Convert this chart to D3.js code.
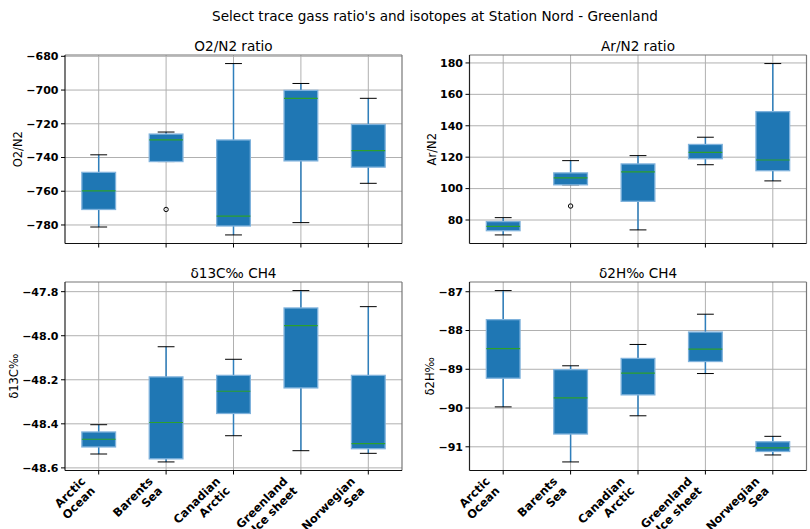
<!DOCTYPE html>
<html>
<head>
<meta charset="utf-8">
<script src="https://cdn.jsdelivr.net/npm/d3@7"></script>
<style>
  body { margin: 0; background: #fff; }
  text { font-family: "DejaVu Sans", sans-serif; fill: #000; }
  .tick-label { font-weight: bold; font-size: 11px; }
  .cat-label { font-weight: bold; font-size: 11.5px; }
</style>
</head>
<body>
<svg id="chart" width="810" height="529"></svg>
<script>
// categories and their two-line tick labels
var categories = ['Arctic Ocean', 'Barents Sea', 'Canadian Arctic', 'Greenland Ice sheet', 'Norwegian Sea'];
var categoryLines = [['Arctic', 'Ocean'], ['Barents', 'Sea'], ['Canadian', 'Arctic'], ['Greenland', 'Ice sheet'], ['Norwegian', 'Sea']];

// box stats per category: [lower whisker, Q1, median, Q3, upper whisker]
var o2n2Stats = [
  [-781.2, -770.8, -759.8, -748.8, -738.4],
  [-742.4, -742.4, -729.6, -726.1, -724.9],
  [-785.9, -780.6, -774.7, -729.6, -684.3],
  [-778.6, -742.0, -704.9, -700.2, -696.1],
  [-755.3, -745.7, -735.9, -720.4, -704.9]
];
var o2n2Outliers = [[], [-770.8], [], [], []];
var o2n2Ticks = [-780, -760, -740, -720, -700, -680];

var arn2Stats = [
  [70.5, 73.2, 76.0, 79.0, 81.5],
  [102.4, 102.4, 106.8, 110.0, 117.8],
  [73.7, 91.9, 110.6, 115.7, 121.0],
  [115.2, 119.0, 123.0, 128.1, 132.7],
  [104.9, 111.4, 118.2, 149.0, 179.6]
];
var arn2Outliers = [[], [88.9], [], [], []];
var arn2Ticks = [80, 100, 120, 140, 160, 180];

var d13cStats = [
  [-48.537, -48.505, -48.470, -48.437, -48.404],
  [-48.573, -48.559, -48.394, -48.187, -48.050],
  [-48.454, -48.353, -48.252, -48.180, -48.107],
  [-48.522, -48.237, -47.954, -47.874, -47.795],
  [-48.534, -48.513, -48.490, -48.180, -47.868]
];
var d13cOutliers = [[], [], [], [], []];
var d13cTicks = [-48.6, -48.4, -48.2, -48.0, -47.8];

var d2hStats = [
  [-89.97, -89.23, -88.47, -87.72, -86.97],
  [-91.39, -90.67, -89.74, -89.01, -88.91],
  [-90.20, -89.66, -89.10, -88.72, -88.36],
  [-89.11, -88.80, -88.48, -88.04, -87.58],
  [-91.21, -91.12, -91.03, -90.87, -90.73]
];
var d2hOutliers = [[], [], [], [], []];
var d2hTicks = [-91, -90, -89, -88, -87];

var suptitle = "Select trace gass ratio's and isotopes at Station Nord - Greenland";

var
  svg = d3.select('#chart'),
  pw = 337,
  ph = 188.5,
  panels = [
    {title: 'O2/N2 ratio', ylabel: 'O2/N2', stats: o2n2Stats, outliers: o2n2Outliers, ticks: o2n2Ticks, fmt: d3.format('d'), left: 65, top: 55, xlabels: false},
    {title: 'Ar/N2 ratio', ylabel: 'Ar/N2', stats: arn2Stats, outliers: arn2Outliers, ticks: arn2Ticks, fmt: d3.format('d'), left: 469.5, top: 55, xlabels: false},
    {title: 'δ13C‰ CH4', ylabel: 'δ13C‰', stats: d13cStats, outliers: d13cOutliers, ticks: d13cTicks, fmt: d3.format('.1f'), left: 65, top: 282, xlabels: true},
    {title: 'δ2H‰ CH4', ylabel: 'δ2H‰', stats: d2hStats, outliers: d2hOutliers, ticks: d2hTicks, fmt: d3.format('d'), left: 469.5, top: 282, xlabels: true}
  ];

svg.append('text')
  .attr('x', 435)
  .attr('y', 21)
  .attr('text-anchor', 'middle')
  .style('font-size', '13.6px')
  .text(suptitle);

panels.forEach(function(p) {
  var
    g = svg.append('g').attr('transform', 'translate(' + p.left + ',' + p.top + ')'),
    all = d3.merge(p.stats.concat(p.outliers)),
    lo = d3.min(all),
    hi = d3.max(all),
    pad = (hi - lo) * 0.05,
    x = d3.scalePoint().domain(categories).range([0, pw]).padding(0.5),
    y = d3.scaleLinear().domain([lo - pad, hi + pad]).range([ph, 0]),
    bw = x.step() * 0.5,
    cw = x.step() * 0.25
    ;

  // grid
  g.selectAll('.gx').data(categories).enter().append('line')
    .attr('x1', d => x(d)).attr('x2', d => x(d))
    .attr('y1', 0).attr('y2', ph)
    .attr('stroke', '#b0b0b0').attr('stroke-width', 1);
  g.selectAll('.gy').data(p.ticks).enter().append('line')
    .attr('x1', 0).attr('x2', pw)
    .attr('y1', d => y(d)).attr('y2', d => y(d))
    .attr('stroke', '#b0b0b0').attr('stroke-width', 1);

  var boxes = g.selectAll('.box')
    .data(p.stats)
    .enter().append('g')
    .attr('class', 'box')
    .attr('transform', (d, i) => 'translate(' + x(categories[i]) + ',0)');

  // whiskers
  boxes.append('line')
    .attr('y1', d => y(d[3])).attr('y2', d => y(d[4]))
    .attr('stroke', '#2f7fbc').attr('stroke-width', 1.5);
  boxes.append('line')
    .attr('y1', d => y(d[1])).attr('y2', d => y(d[0]))
    .attr('stroke', '#2f7fbc').attr('stroke-width', 1.5);
  // caps
  boxes.selectAll('.cap')
    .data(d => [d[0], d[4]])
    .enter().append('line')
    .attr('x1', -cw / 2).attr('x2', cw / 2)
    .attr('y1', v => y(v)).attr('y2', v => y(v))
    .attr('stroke', '#000').attr('stroke-width', 1);
  // box
  boxes.append('rect')
    .attr('x', -bw / 2).attr('width', bw)
    .attr('y', d => y(d[3]))
    .attr('height', d => Math.max(0, y(d[1]) - y(d[3])))
    .attr('fill', '#1f77b4')
    .attr('stroke', '#7fb2dc').attr('stroke-width', 1.3);
  // median
  boxes.append('line')
    .attr('x1', -bw / 2).attr('x2', bw / 2)
    .attr('y1', d => y(d[2])).attr('y2', d => y(d[2]))
    .attr('stroke', '#2ca02c').attr('stroke-width', 1.2);
  // outliers
  g.selectAll('.flier')
    .data(d3.merge(p.outliers.map((o, i) => o.map(v => ({c: categories[i], v: v})))))
    .enter().append('circle')
    .attr('cx', d => x(d.c)).attr('cy', d => y(d.v))
    .attr('r', 2.2)
    .attr('fill', 'none').attr('stroke', '#000').attr('stroke-width', 1);

  // frame
  g.append('line').attr('x1', 0).attr('x2', pw).attr('y1', 0).attr('y2', 0).attr('stroke', '#777').attr('stroke-width', 1.2);
  g.append('line').attr('x1', pw).attr('x2', pw).attr('y1', 0).attr('y2', ph).attr('stroke', '#777').attr('stroke-width', 1.2);
  g.append('line').attr('x1', 0).attr('x2', 0).attr('y1', 0).attr('y2', ph).attr('stroke', '#222').attr('stroke-width', 1.2);
  g.append('line').attr('x1', 0).attr('x2', pw).attr('y1', ph).attr('y2', ph).attr('stroke', '#111').attr('stroke-width', 1.2);

  // y ticks
  var yt = g.selectAll('.ytick').data(p.ticks).enter().append('g')
    .attr('transform', d => 'translate(0,' + y(d) + ')');
  yt.append('line').attr('x1', -4).attr('x2', 0).attr('stroke', '#000').attr('stroke-width', 1);
  yt.append('text')
    .attr('class', 'tick-label')
    .attr('x', -6.5).attr('dy', '0.35em')
    .attr('text-anchor', 'end')
    .text(d => p.fmt(d));

  var maxW = d3.max(yt.selectAll('text').nodes(), n => n.getComputedTextLength());

  // x ticks
  g.selectAll('.xtick').data(categories).enter().append('line')
    .attr('x1', d => x(d)).attr('x2', d => x(d))
    .attr('y1', ph).attr('y2', ph + 4)
    .attr('stroke', '#000').attr('stroke-width', 1);

  if (p.xlabels) {
    var xl = g.selectAll('.xlabel').data(categories).enter().append('text')
      .attr('class', 'cat-label')
      .attr('text-anchor', 'end')
      .attr('transform', d => 'translate(' + (x(d) - 3) + ',' + (ph + 21) + ') rotate(-45)');
    xl.selectAll('tspan')
      .data((d, i) => categoryLines[i].map((t, k) => ({t: t, k: k})))
      .enter().append('tspan')
      .attr('x', 0)
      .attr('y', d => (d.k - 1) * 13.5)
      .text(d => d.t);
  }

  // titles
  g.append('text')
    .attr('x', pw / 2).attr('y', -4)
    .attr('text-anchor', 'middle')
    .style('font-size', '13.6px')
    .text(p.title);
  g.append('text')
    .attr('transform', 'translate(' + (-maxW - 10.5) + ',' + (ph / 2) + ') rotate(-90)')
    .attr('text-anchor', 'middle')
    .style('font-size', '11.5px')
    .text(p.ylabel);
});
</script>
</body>
</html>
